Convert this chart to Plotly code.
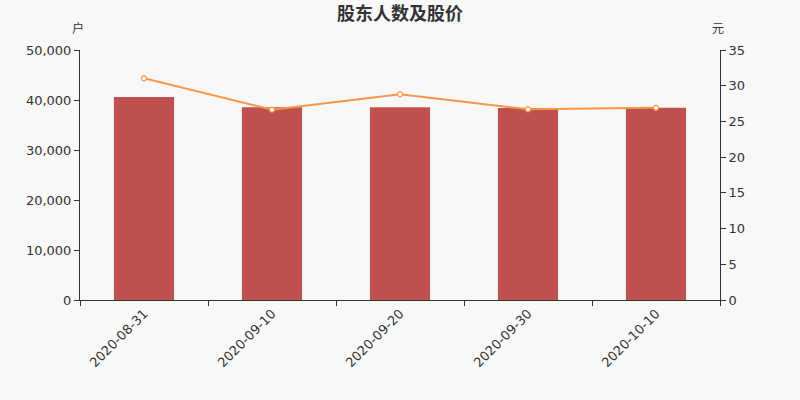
import plotly.graph_objects as go

# data
dates = ["2020-08-31", "2020-09-10", "2020-09-20", "2020-09-30", "2020-10-10"]
holders = [40600, 38530, 38530, 38400, 38470]   # 股东人数 (户)
prices = [31.04, 26.65, 28.80, 26.70, 26.90]     # 股价 (元)

bar_color = "#c0504d"
line_color = "#f79646"
text_color = "#333333"
font_family = "DejaVu Sans, Noto Sans CJK SC, sans-serif"

fig = go.Figure()

fig.add_trace(go.Bar(
    x=dates, y=holders, name="股东人数",
    marker=dict(color=bar_color, line=dict(width=0)),
    width=0.47,
))

fig.add_trace(go.Scatter(
    x=dates, y=prices, name="股价", yaxis="y2",
    mode="lines+markers",
    line=dict(color=line_color, width=2),
    marker=dict(symbol="circle", size=5, color="white",
                line=dict(color=line_color, width=1.2)),
))

fig.update_layout(
    template="none",
    width=800, height=400,
    paper_bgcolor="#f8f8f8", plot_bgcolor="#f8f8f8",
    margin=dict(l=80, r=80, t=50, b=100),
    showlegend=False,
    font=dict(family=font_family, size=13, color=text_color),
    title=dict(text="<b>股东人数及股价</b>", x=0.5, xanchor="center",
               y=0.965, yanchor="middle",
               font=dict(size=18, color=text_color)),
    xaxis=dict(
        type="category", tickson="boundaries",
        ticks="outside", ticklen=5, tickcolor=text_color,
        showline=True, linecolor=text_color, linewidth=1,
        showgrid=False, tickangle=-45,
        tickfont=dict(size=13, color=text_color),
    ),
    yaxis=dict(
        range=[0, 50000], dtick=10000, tickformat=",",
        ticks="outside", ticklen=5, tickcolor=text_color,
        showline=True, linecolor=text_color, linewidth=1,
        showgrid=False, zeroline=False,
        tickfont=dict(size=13, color=text_color),
    ),
    yaxis2=dict(
        range=[0, 35], dtick=5, overlaying="y", side="right",
        ticks="outside", ticklen=5, tickcolor=text_color,
        showline=True, linecolor=text_color, linewidth=1,
        showgrid=False, zeroline=False,
        tickfont=dict(size=13, color=text_color),
    ),
    annotations=[
        dict(text="户", xref="paper", yref="paper", x=0, y=1.085,
             xanchor="center", yanchor="middle", xshift=-2, showarrow=False,
             font=dict(size=12, color=text_color)),
        dict(text="元", xref="paper", yref="paper", x=1, y=1.085,
             xanchor="center", yanchor="middle", xshift=-2, showarrow=False,
             font=dict(size=12, color=text_color)),
    ],
)

# drop the default page margin so the figure sits at the window corner
fig.write_html("out.html",
               config={"displayModeBar": False},
               post_script="document.body.style.margin='0';"
                           "document.body.style.background='#f8f8f8';")
